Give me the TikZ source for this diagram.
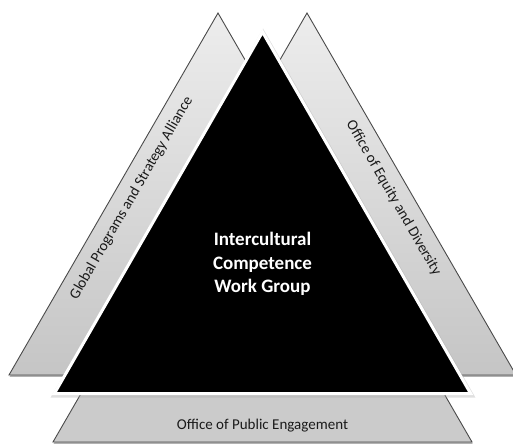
\documentclass[tikz,border=0pt]{standalone}
\usepackage{fontspec}
\setmainfont{Carlito}
\definecolor{wingtop}{HTML}{EDEDED}
\definecolor{wingbot}{HTML}{C5C5C5}
\definecolor{edgegray}{HTML}{4A4A4A}
\definecolor{basefill}{HTML}{CBCBCB}
\definecolor{labelink}{HTML}{1A1A1A}
\begin{document}
\begin{tikzpicture}[x=1pt,y=-1pt,
  wing/.style={draw=edgegray,line width=0.9pt,line join=miter,
    top color=wingtop,bottom color=wingbot},
  plate/.style={draw=edgegray,line width=0.9pt,line join=miter,fill=basefill},
  dropshadow/.style={fill=black!55,opacity=0.55},
  core/.style={fill=black,draw=white,line width=3pt,line join=miter},
  halo/.style={draw=black!35,line width=5pt,opacity=0.35,line join=miter},
  sidelabel/.style={text=labelink,font=\fontsize{15}{18}\selectfont,inner sep=0pt},
  corelabel/.style={text=white,align=center,inner sep=0pt,
    font=\fontsize{19}{23.5}\selectfont\bfseries}]
\useasboundingbox (0,0) rectangle (513,445);

% outlines of the four pieces
\def\leftwing{(9,375) -- (218,13) -- (427,375) -- cycle}
\def\rightwing{(98,375) -- (307,13) -- (516,375) -- cycle}
\def\baseplate{(53,442) -- (81.9,392) -- (443.1,392) -- (472,442) -- cycle}
\def\corepath{(54.4,393.5) -- (262.5,32) -- (470.6,393.5) -- cycle}

% soft shadows under the grey pieces
\begin{scope}[shift={(0.6,1.8)}]
  \fill[dropshadow] \leftwing;
  \fill[dropshadow] \rightwing;
  \fill[dropshadow] \baseplate;
\end{scope}

% grey side triangles
\path[wing] \leftwing;
\path[wing] \rightwing;
\node[inner sep=0pt] (wingL) at (218,13) {};
\node[inner sep=0pt] (wingR) at (307,13) {};

% bottom plate
\path[plate] \baseplate;

% central black triangle with white rim
\begin{scope}[shift={(0.5,1.5)}]
  \path[halo] \corepath;
\end{scope}
\path[core] \corepath;

% labels
\node[sidelabel,rotate=60] (gpsa) at (131.5,198)
  {Global Programs and Strategy Alliance};
\node[sidelabel,rotate=-60] (oed) at (393.5,198)
  {Office of Equity and Diversity};
\node[sidelabel] (ope) at (262.5,425.5) {Office of Public Engagement};
\node[corelabel] (icwg) at (262.5,264)
  {Intercultural\\Competence\\Work Group};
\end{tikzpicture}
\end{document}
